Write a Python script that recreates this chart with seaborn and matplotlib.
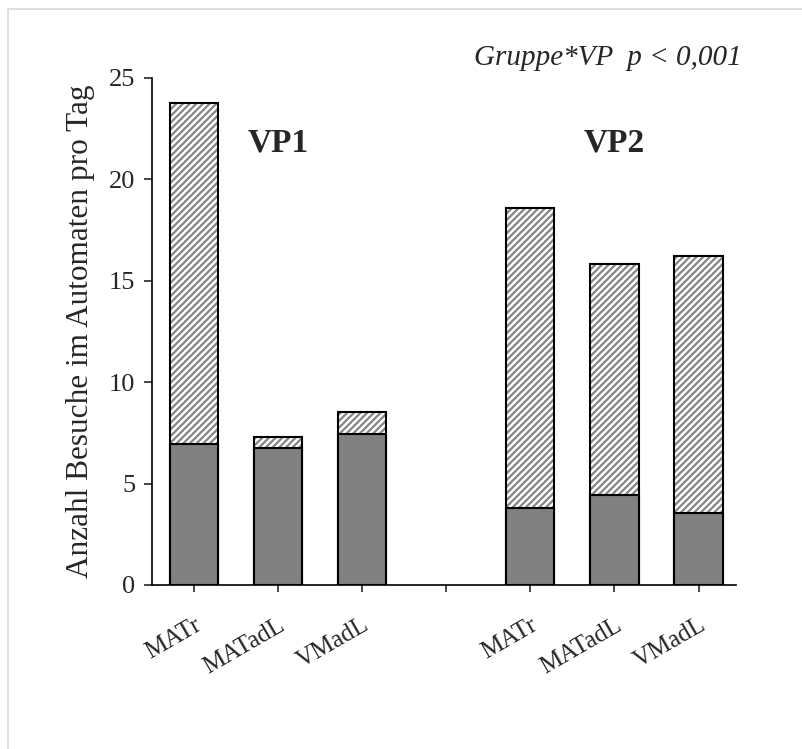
import matplotlib
matplotlib.use("Agg")
import matplotlib.pyplot as plt
import seaborn as sns
import pandas as pd
from matplotlib.patches import Rectangle

# ---- data ----
groups = ["VP1", "VP1", "VP1", "VP2", "VP2", "VP2"]
categories = ["MATr", "MATadL", "VMadL", "MATr", "MATadL", "VMadL"]
bottom_values = [6.95, 6.74, 7.43, 3.78, 4.44, 3.53]
total_values = [23.75, 7.31, 8.53, 18.57, 15.83, 16.22]
y_ticks = [0, 5, 10, 15, 20, 25]
annotation = "Gruppe*VP  p < 0,001"
y_label = "Anzahl Besuche im Automaten pro Tag"

keys = [f"{g} {c}" for g, c in zip(groups, categories)]
order = keys[:3] + ["gap"] + keys[3:]
tick_labels = categories[:3] + [""] + categories[3:]

df = pd.DataFrame({"key": keys, "bottom": bottom_values, "total": total_values})

sns.set_style("white")
plt.rcParams["font.family"] = ["Liberation Serif", "DejaVu Serif"]
plt.rcParams["hatch.linewidth"] = 1.6

fig = plt.figure(figsize=(8.03, 7.49), dpi=100)
ax = fig.add_axes([0.189, 0.219, 0.728, 0.677])

# hatched full-height bars (fill only)
sns.barplot(data=df, x="key", y="total", order=order, color="white",
            width=0.575, edgecolor="#858585", linewidth=0, ax=ax,
            errorbar=None, saturation=1)
for p in list(ax.patches):
    p.set_hatch("/////")
    p.set_facecolor("white")
    try:
        p.set_hatchcolor("#858585")
    except Exception:
        pass
# black outlines of full bars
sns.barplot(data=df, x="key", y="total", order=order, fill=False,
            width=0.575, edgecolor="black", linewidth=1.5, ax=ax,
            errorbar=None)
# solid bottom segments
sns.barplot(data=df, x="key", y="bottom", order=order, color="#808080",
            width=0.575, edgecolor="black", linewidth=1.5, ax=ax,
            errorbar=None, saturation=1)

ax.set_xlim(-0.5, 6.45)
ax.set_ylim(0, 25)
ax.set_yticks(y_ticks)
ax.set_yticklabels([str(t) for t in y_ticks], fontsize=19)
ax.set_xticks(range(len(order)))
ax.set_xticklabels(tick_labels, rotation=30, ha="right", va="top",
                   rotation_mode="anchor", fontsize=18)
ax.tick_params(axis="x", which="major", direction="out", length=5, width=1.2,
               bottom=True, pad=16)
ax.tick_params(axis="y", which="major", direction="out", length=6, width=1.2,
               left=True, pad=6)
ax.set_xlabel("")
ax.set_ylabel(y_label, fontsize=22.5, labelpad=10)
for s in ["top", "right"]:
    ax.spines[s].set_visible(False)
for s in ["left", "bottom"]:
    ax.spines[s].set_color("black")
    ax.spines[s].set_linewidth(1.2)

ax.text(1, 21.8, "VP1", fontsize=24, fontweight="bold", ha="center", va="center")
ax.text(5, 21.8, "VP2", fontsize=24, fontweight="bold", ha="center", va="center")
fig.text(742 / 803, 1 - 58 / 749, annotation, fontsize=21, style="italic",
         ha="right", va="center")

fig.patches.append(Rectangle((8 / 803, -0.1), 1.2, 1.1 - 9 / 749,
                             transform=fig.transFigure, fill=False,
                             edgecolor="#d9d9d9", linewidth=1.2))

fig.savefig("out.png", dpi=100)
